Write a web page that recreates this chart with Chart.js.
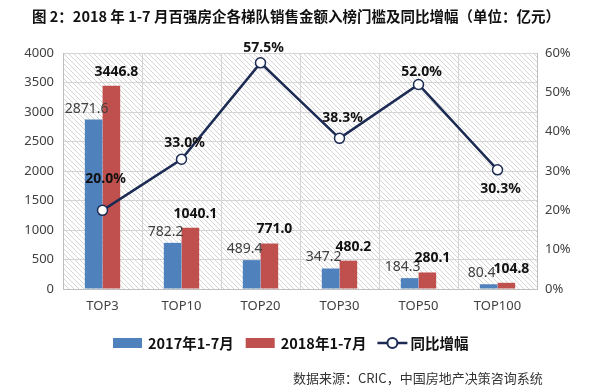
<!DOCTYPE html>
<html>
<head>
<meta charset="utf-8">
<script src="https://cdn.jsdelivr.net/npm/chart.js@4/dist/chart.umd.min.js"></script>
<style>
html,body{margin:0;padding:0;background:#fff;}
#wrap{width:600px;height:390px;position:relative;}
</style>
</head>
<body>
<div id="wrap"><canvas id="c" width="600" height="390"></canvas></div>
<script>
const categories = ['TOP3','TOP10','TOP20','TOP30','TOP50','TOP100'];
const sales2017 = [2871.6, 782.2, 489.4, 347.2, 184.3, 80.4];
const sales2018 = [3446.8, 1040.1, 771.0, 480.2, 280.1, 104.8];
const growthPct = [20.0, 33.0, 57.5, 38.3, 52.0, 30.3];
const leftTicks = [0,500,1000,1500,2000,2500,3000,3500,4000];
const rightTicks = [0,10,20,30,40,50,60];
const seriesNames = ['2017年1-7月','2018年1-7月','同比增幅'];
const titleText = '图 2：2018 年 1-7 月百强房企各梯队销售金额入榜门槛及同比增幅（单位：亿元）';
const sourceText = '数据来源：CRIC，中国房地产决策咨询系统';

// label style offsets (pixels) for percentage labels
const pctLabelDy = [-31,-16,-15,-20,-12,19];

const CJK = '"Noto Sans CJK SC","Noto Sans",sans-serif';
const NUM = '"Noto Sans","DejaVu Sans",sans-serif';

function makeHatch(){
  const p = document.createElement('canvas');
  p.width = 5; p.height = 5;
  const g = p.getContext('2d');
  g.fillStyle = '#ffffff'; g.fillRect(0,0,5,5);
  g.strokeStyle = '#d6d6d6'; g.lineWidth = 1;
  g.beginPath();
  g.moveTo(-1,-1); g.lineTo(6,6);
  g.moveTo(-1,4); g.lineTo(1,6);
  g.moveTo(4,-1); g.lineTo(6,1);
  g.stroke();
  return p;
}

const bgPlugin = {
  id:'bg',
  beforeDraw(chart){
    const {ctx, chartArea:a} = chart;
    ctx.save();
    ctx.fillStyle = ctx.createPattern(makeHatch(),'repeat');
    ctx.fillRect(a.left, a.top, a.right-a.left, a.bottom-a.top);
    ctx.restore();
  }
};

const labelsPlugin = {
  id:'labels',
  afterDatasetsDraw(chart){
    const ctx = chart.ctx;
    ctx.save();
    ctx.textAlign = 'center';
    ctx.textBaseline = 'middle';
    const m0 = chart.getDatasetMeta(0);
    ctx.font = '14px ' + NUM;
    ctx.fillStyle = '#404040';
    m0.data.forEach((el,i)=>{
      ctx.fillText(sales2017[i].toFixed(1), el.x - 7, el.y - 11);
    });
    const m1 = chart.getDatasetMeta(1);
    ctx.font = 'bold 14px ' + NUM;
    ctx.fillStyle = '#111';
    m1.data.forEach((el,i)=>{
      ctx.fillText(sales2018[i].toFixed(1), el.x + 5, el.y - 14);
    });
    const m2 = chart.getDatasetMeta(2);
    m2.data.forEach((el,i)=>{
      ctx.fillText(growthPct[i].toFixed(1)+'%', el.x + 3, el.y + pctLabelDy[i]);
    });
    ctx.restore();
  },
  afterDraw(chart){
    const ctx = chart.ctx;
    ctx.save();
    ctx.font = 'bold 14.5px ' + CJK;
    ctx.fillStyle = '#111';
    ctx.textBaseline = 'middle';
    ctx.textAlign = 'left';
    ctx.fillText(titleText, 32, 16);
    const ds = chart.data.datasets;
    const y = 343;
    ctx.font = 'bold 14.5px ' + CJK;
    let x = 113;
    ctx.fillStyle = ds[0].backgroundColor;
    ctx.fillRect(x, y-5, 29, 10);
    x += 35;
    ctx.fillStyle = '#111';
    ctx.fillText(ds[0].label, x, y);
    x += ctx.measureText(ds[0].label).width + 12;
    ctx.fillStyle = ds[1].backgroundColor;
    ctx.fillRect(x, y-5, 29, 10);
    x += 35;
    ctx.fillStyle = '#111';
    ctx.fillText(ds[1].label, x, y);
    x += ctx.measureText(ds[1].label).width + 11;
    ctx.strokeStyle = ds[2].borderColor;
    ctx.lineWidth = 2.5;
    ctx.beginPath(); ctx.moveTo(x, y); ctx.lineTo(x+30, y); ctx.stroke();
    ctx.beginPath(); ctx.arc(x+15, y, 5, 0, Math.PI*2);
    ctx.fillStyle = '#fff'; ctx.fill(); ctx.lineWidth = 2; ctx.stroke();
    x += 33;
    ctx.fillStyle = '#111';
    ctx.fillText(ds[2].label, x, y);
    ctx.font = '13px ' + CJK;
    ctx.fillStyle = '#333';
    ctx.fillText(sourceText, 293, 378);
    ctx.restore();
  }
};

new Chart(document.getElementById('c'), {
  data:{
    labels: categories,
    datasets:[
      {type:'bar', label:seriesNames[0], data:sales2017, yAxisID:'y',
       backgroundColor:'#4f81bd', categoryPercentage:0.45, barPercentage:0.99, order:1},
      {type:'bar', label:seriesNames[1], data:sales2018, yAxisID:'y',
       backgroundColor:'#c0504d', categoryPercentage:0.45, barPercentage:0.99, order:1},
      {type:'line', label:seriesNames[2], data:growthPct, yAxisID:'y1',
       borderColor:'#1c2b54', borderWidth:2.5, pointRadius:5, pointBorderWidth:1.5,
       pointBackgroundColor:'#ffffff', pointBorderColor:'#1c2b54', tension:0, order:0}
    ]
  },
  options:{
    responsive:false,
    animation:false,
    layout:{padding:{top:53, bottom:79, left:0, right:0}},
    plugins:{legend:{display:false}, title:{display:false}, tooltip:{enabled:false}},
    scales:{
      x:{
        offset:true,
        grid:{offset:true, color:'#d4d4d4', drawTicks:false},
        border:{color:'#bfbfbf'},
        ticks:{color:'#404040', font:{family:NUM, size:13}, padding:9},
        afterFit(s){ s.height = 22; }
      },
      y:{
        position:'left', min:0, max:4000,
        afterBuildTicks(s){ s.ticks = leftTicks.map(v=>({value:v})); },
        grid:{color:'#d4d4d4', drawTicks:false},
        border:{color:'#bfbfbf'},
        ticks:{color:'#404040', font:{family:NUM, size:13}, padding:9,
               callback:v=>String(v)},
        afterFit(s){ s.width = 63; }
      },
      y1:{
        position:'right', min:0, max:60,
        afterBuildTicks(s){ s.ticks = rightTicks.map(v=>({value:v})); },
        grid:{display:false, drawTicks:false},
        border:{color:'#bfbfbf'},
        ticks:{color:'#404040', font:{family:NUM, size:13}, padding:8,
               callback:v=>v+'%'},
        afterFit(s){ s.width = 63; }
      }
    }
  },
  plugins:[bgPlugin, labelsPlugin]
});
</script>
</body>
</html>
